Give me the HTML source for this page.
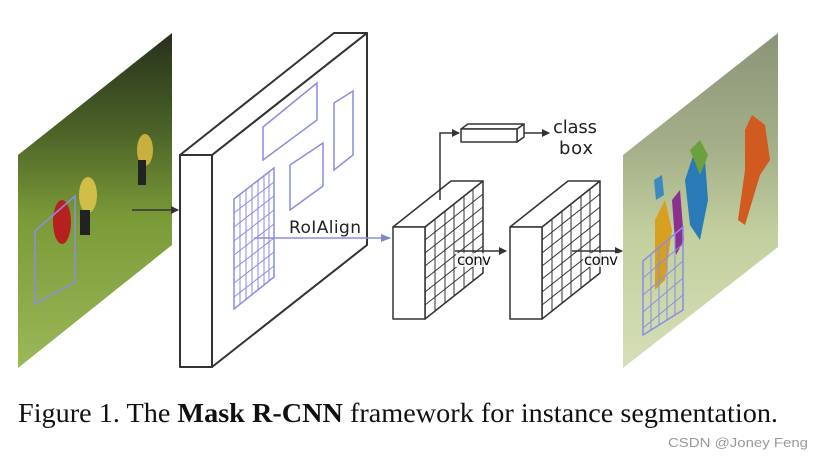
<!DOCTYPE html>
<html><head><meta charset="utf-8"><style>
html,body{margin:0;padding:0;background:#fff;}
svg{display:block}
</style></head><body>
<svg width="821" height="459" viewBox="0 0 821 459" xmlns="http://www.w3.org/2000/svg">
<defs>
<linearGradient id="g1" x1="0" y1="0" x2="0" y2="1">
<stop offset="0" stop-color="#26301a"/><stop offset="0.3" stop-color="#4d6428"/><stop offset="0.55" stop-color="#7a9a38"/><stop offset="1" stop-color="#9cb858"/>
</linearGradient>
<linearGradient id="g2" x1="0" y1="0" x2="0" y2="1">
<stop offset="0" stop-color="#8a9478"/><stop offset="0.35" stop-color="#a5b08a"/><stop offset="0.6" stop-color="#c2cf9e"/><stop offset="1" stop-color="#d6dfb8"/>
</linearGradient>
<marker id="ab" markerWidth="8" markerHeight="8" refX="7" refY="4" orient="auto" markerUnits="userSpaceOnUse"><path d="M0,0 L8,4 L0,8 z" fill="#333"/></marker>
<marker id="ap" markerWidth="10" markerHeight="8" refX="9" refY="4" orient="auto" markerUnits="userSpaceOnUse"><path d="M0,0 L10,4 L0,8 z" fill="#8088c8"/></marker>
</defs>
<!-- left image -->
<polygon points="18,155 172,33 172,245 18,368" fill="url(#g1)"/>
<ellipse cx="62" cy="222" rx="9" ry="22" fill="#b82020"/>
<ellipse cx="88" cy="195" rx="9" ry="18" fill="#d0be48"/>
<ellipse cx="145" cy="150" rx="8" ry="16" fill="#c8b040"/>
<rect x="80" y="210" width="10" height="25" fill="#222"/>
<rect x="138" y="160" width="8" height="25" fill="#222"/>
<polygon points="35,231 75,196 75,282 35,304" fill="none" stroke="#8a8ee0" stroke-width="1.5"/>
<line x1="132" y1="210" x2="178" y2="210" stroke="#333" stroke-width="1.5" marker-end="url(#ab)"/>
<!-- right image -->
<polygon points="623,155 778,33 778,247 623,368" fill="url(#g2)"/>
<path d="M685,180 L695,150 L705,160 L708,200 L700,240 L690,225Z" fill="#2a7ab8"/>
<path d="M690,150 L700,140 L708,155 L700,175Z" fill="#6aa040"/>
<path d="M745,130 L752,115 L765,125 L770,160 L760,175 L745,225 L738,220 L745,170Z" fill="#d05a20"/>
<path d="M655,220 L665,200 L672,230 L665,280 L655,290Z" fill="#d8a020"/>
<path d="M672,200 L680,190 L684,240 L676,255Z" fill="#8a3090"/>
<path d="M654,180 L662,175 L664,195 L656,200Z" fill="#3a8ac0"/>
<polygon points="643,261 683,227 683,310 643,335" fill="none" stroke="#8a8ee0" stroke-width="1.5"/>
<g stroke="#8a8ee0" stroke-width="1">
<line x1="651" y1="254" x2="651" y2="330"/><line x1="659" y1="247" x2="659" y2="325"/><line x1="667" y1="240" x2="667" y2="320"/><line x1="675" y1="234" x2="675" y2="315"/>
<line x1="643" y1="278" x2="683" y2="244"/><line x1="643" y1="295" x2="683" y2="261"/><line x1="643" y1="312" x2="683" y2="278"/><line x1="643" y1="328" x2="683" y2="295"/>
</g>
<!-- big feature map -->
<g stroke="#333" stroke-width="2" fill="#fff" stroke-linejoin="round">
<polygon points="212,155 367,33 367,245 212,367"/>
<polygon points="180,155 334,33 367,33 212,155"/>
<rect x="180" y="155" width="32" height="212"/>
</g>
<g fill="none" stroke="#8a8ee0" stroke-width="1.5">
<polygon points="263,127 317,83 317,120 263,160"/>
<polygon points="334,103 353,91 353,155 334,170"/>
<polygon points="290,165 323,143 323,186 290,210"/>
</g>
<g stroke="#8a8ee0" stroke-width="1" fill="none">
<polygon points="234,199 274,168 274,277 234,309" stroke-width="1.5"/>
<line x1="240" y1="194" x2="240" y2="304"/><line x1="246" y1="190" x2="246" y2="300"/><line x1="252" y1="185" x2="252" y2="295"/><line x1="258" y1="180" x2="258" y2="290"/><line x1="264" y1="175" x2="264" y2="285"/><line x1="269" y1="172" x2="269" y2="281"/>
<line x1="234" y1="213" x2="274" y2="182"/><line x1="234" y1="227" x2="274" y2="196"/><line x1="234" y1="241" x2="274" y2="210"/><line x1="234" y1="255" x2="274" y2="224"/><line x1="234" y1="269" x2="274" y2="238"/><line x1="234" y1="283" x2="274" y2="252"/><line x1="234" y1="297" x2="274" y2="266"/>
</g>
<line x1="254" y1="238" x2="390" y2="238" stroke="#8a8ee0" stroke-width="1.5" marker-end="url(#ap)"/>
<text x="289" y="233" font-family="DejaVu Sans, Liberation Sans, sans-serif" font-size="17" fill="#222" textLength="72">RoIAlign</text>
<!-- small boxes -->
<g id="sb">
<g stroke="#333" stroke-width="1.5" fill="#fff" stroke-linejoin="round">
<polygon points="425,227 483,181 483,273 425,319"/>
<polygon points="393,227 451,181 483,181 425,227"/>
<rect x="393" y="227" width="32" height="92"/>
</g>
<g stroke="#333" stroke-width="1" fill="none">
<line x1="435" y1="219" x2="435" y2="311"/><line x1="445" y1="211" x2="445" y2="303"/><line x1="454" y1="204" x2="454" y2="296"/><line x1="464" y1="196" x2="464" y2="288"/><line x1="473" y1="189" x2="473" y2="281"/>
<line x1="425" y1="240" x2="483" y2="194"/><line x1="425" y1="253" x2="483" y2="207"/><line x1="425" y1="266" x2="483" y2="220"/><line x1="425" y1="279" x2="483" y2="233"/><line x1="425" y1="292" x2="483" y2="246"/><line x1="425" y1="305" x2="483" y2="259"/>
</g>
</g>
<use href="#sb" x="117"/>
<line x1="455" y1="251" x2="506" y2="251" stroke="#333" stroke-width="1.5" marker-end="url(#ab)"/>
<line x1="572" y1="251" x2="622" y2="251" stroke="#333" stroke-width="1.5" marker-end="url(#ab)"/>
<rect x="456" y="253" width="35" height="14" fill="#fff" opacity="0.8"/>
<rect x="583" y="253" width="35" height="14" fill="#fff" opacity="0.8"/>
<text x="457" y="265" font-family="DejaVu Sans, Liberation Sans, sans-serif" font-size="15" fill="#111" textLength="34">conv</text>
<text x="584" y="265" font-family="DejaVu Sans, Liberation Sans, sans-serif" font-size="15" fill="#111" textLength="34">conv</text>
<!-- fc -->
<polyline points="440,200 440,133 459,133" fill="none" stroke="#333" stroke-width="1.5" marker-end="url(#ab)"/>
<g stroke="#333" stroke-width="1.5" fill="#fff" stroke-linejoin="round">
<polygon points="517,129 524,124 524,137 517,142"/>
<polygon points="461,129 468,124 524,124 517,129"/>
<rect x="461" y="129" width="56" height="13"/>
</g>
<line x1="524" y1="133" x2="549" y2="133" stroke="#333" stroke-width="1.5" marker-end="url(#ab)"/>
<text x="553" y="133" font-family="DejaVu Sans, Liberation Sans, sans-serif" font-size="18" fill="#222" textLength="44">class</text>
<text x="559" y="154" font-family="DejaVu Sans, Liberation Sans, sans-serif" font-size="18" fill="#222" textLength="34">box</text>
<!-- caption -->
<text x="18" y="422" font-family="Liberation Serif, serif" font-size="27" fill="#111" textLength="760" lengthAdjust="spacingAndGlyphs">Figure 1. The <tspan font-weight="bold">Mask R-CNN</tspan> framework for instance segmentation.</text>
<text x="668" y="447" font-family="Liberation Sans, sans-serif" font-size="13" fill="#999" textLength="140" lengthAdjust="spacingAndGlyphs">CSDN @Joney Feng</text>
</svg>
</body></html>
